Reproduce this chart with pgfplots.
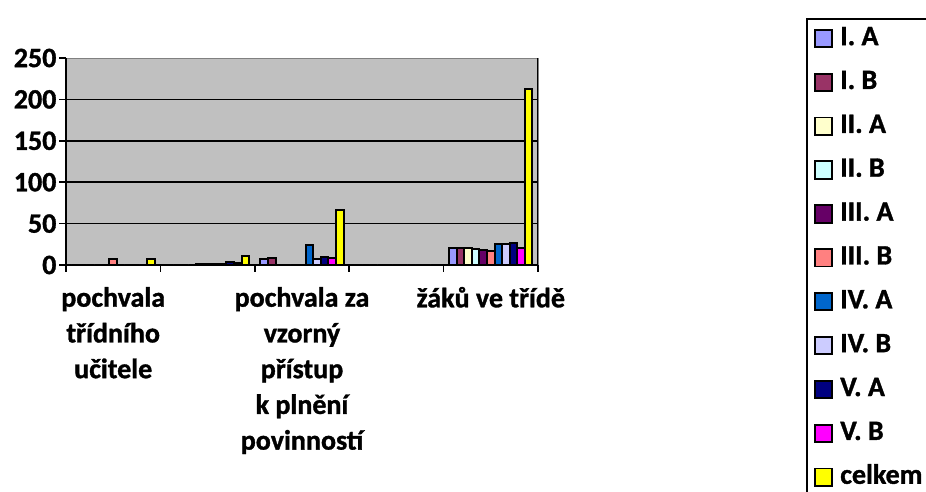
\documentclass[border=0pt]{standalone}
\usepackage{pgfplots}
\pgfplotsset{compat=1.18}
\usepackage{pgfplotstable}
\usepackage{fontspec}
\setmainfont{Carlito}[BoldFont={Carlito Bold}, BoldFeatures={FakeBold=1.2}]
\definecolor{cIA}{HTML}{9999FF}
\definecolor{cIB}{HTML}{993366}
\definecolor{cIIA}{HTML}{FFFFCC}
\definecolor{cIIB}{HTML}{CCFFFF}
\definecolor{cIIIA}{HTML}{660066}
\definecolor{cIIIB}{HTML}{FF8080}
\definecolor{cIVA}{HTML}{0066CC}
\definecolor{cIVB}{HTML}{CCCCFF}
\definecolor{cVA}{HTML}{000080}
\definecolor{cVB}{HTML}{FF00FF}
\definecolor{ccel}{HTML}{FFFF00}
\definecolor{wall}{HTML}{C0C0C0}
\pgfplotstableread{
x IA IB IIA IIB IIIA IIIB IVA IVB VA VB celkem
0 0 0 0 0 0 7 0 0 0 0 7
1 0 0 0 0 1 1 1 1 4 3 11
2 7 9 0 0 0 0 24 7 10 9 66
3 0 0 0 0 0 0 0 0 0 0 0
4 21 20 20 19 18 17 25 25 26 21 212
}\data
\newcommand{\lbl}{\bfseries\fontsize{21}{26.8}\selectfont}
\begin{document}
\begin{tikzpicture}
\useasboundingbox (0,0) rectangle (694.5pt,369pt);
\begin{axis}[
  at={(49.5pt,170.25pt)}, anchor=south west,
  scale only axis, width=354pt, height=155.25pt,
  xmin=-0.5, xmax=4.5, ymin=0, ymax=250,
  ybar=0pt, bar width=0.08,
  axis lines=left, axis line style={black, line width=1.6pt, -},
  axis background/.style={fill=wall, draw=gray, line width=0.6pt},
  ytick={0,50,100,150,200},
  extra y ticks={250}, extra y tick style={grid=none},
  ymajorgrids, grid style={black, line width=1.1pt},
  xtick={0,2,4},
  xticklabels={{pochvala\\třídního\\učitele},{pochvala za\\vzorný\\přístup\\k plnění\\povinností},{žáků ve třídě}},
  xticklabel style={align=center, font=\lbl, yshift=-8pt},
  yticklabel style={font=\lbl, inner sep=2pt},
  /pgf/number format/assume math mode=true,
  minor xtick={-0.5,0.5,1.5,2.5,3.5,4.5},
  tick align=outside, major tick length=5pt, minor tick length=5pt,
  every major x tick/.append style={draw=none},
  tick style={black, line width=1.1pt},
  legend cell align=left,
  legend image code/.code={\draw[#1,line width=1.4pt] (0pt,-6.5pt) rectangle (13pt,6.5pt);},
  legend style={at={(1.5678,1.193)}, anchor=north west, draw=black, line width=1.6pt,
    font=\lbl, row sep=11.9pt, column sep=4pt, inner ysep=4pt, inner xsep=5pt,
    nodes={inner sep=1.5pt, text height=14pt, text depth=4pt}},
  every axis plot/.append style={draw=black, line width=1.5pt},
]
\addplot[fill=cIA] table[x=x,y=IA]{\data};
\addplot[fill=cIB] table[x=x,y=IB]{\data};
\addplot[fill=cIIA] table[x=x,y=IIA]{\data};
\addplot[fill=cIIB] table[x=x,y=IIB]{\data};
\addplot[fill=cIIIA] table[x=x,y=IIIA]{\data};
\addplot[fill=cIIIB] table[x=x,y=IIIB]{\data};
\addplot[fill=cIVA] table[x=x,y=IVA]{\data};
\addplot[fill=cIVB] table[x=x,y=IVB]{\data};
\addplot[fill=cVA] table[x=x,y=VA]{\data};
\addplot[fill=cVB] table[x=x,y=VB]{\data};
\addplot[fill=ccel] table[x=x,y=celkem]{\data};
\legend{I. A,I. B,II. A,II. B,III. A,III. B,IV. A,IV. B,V. A,V. B,celkem\hspace*{20pt}}
\draw[black, line width=1.1pt] (rel axis cs:1,0) -- (rel axis cs:1,1);
\end{axis}
\end{tikzpicture}
\end{document}
